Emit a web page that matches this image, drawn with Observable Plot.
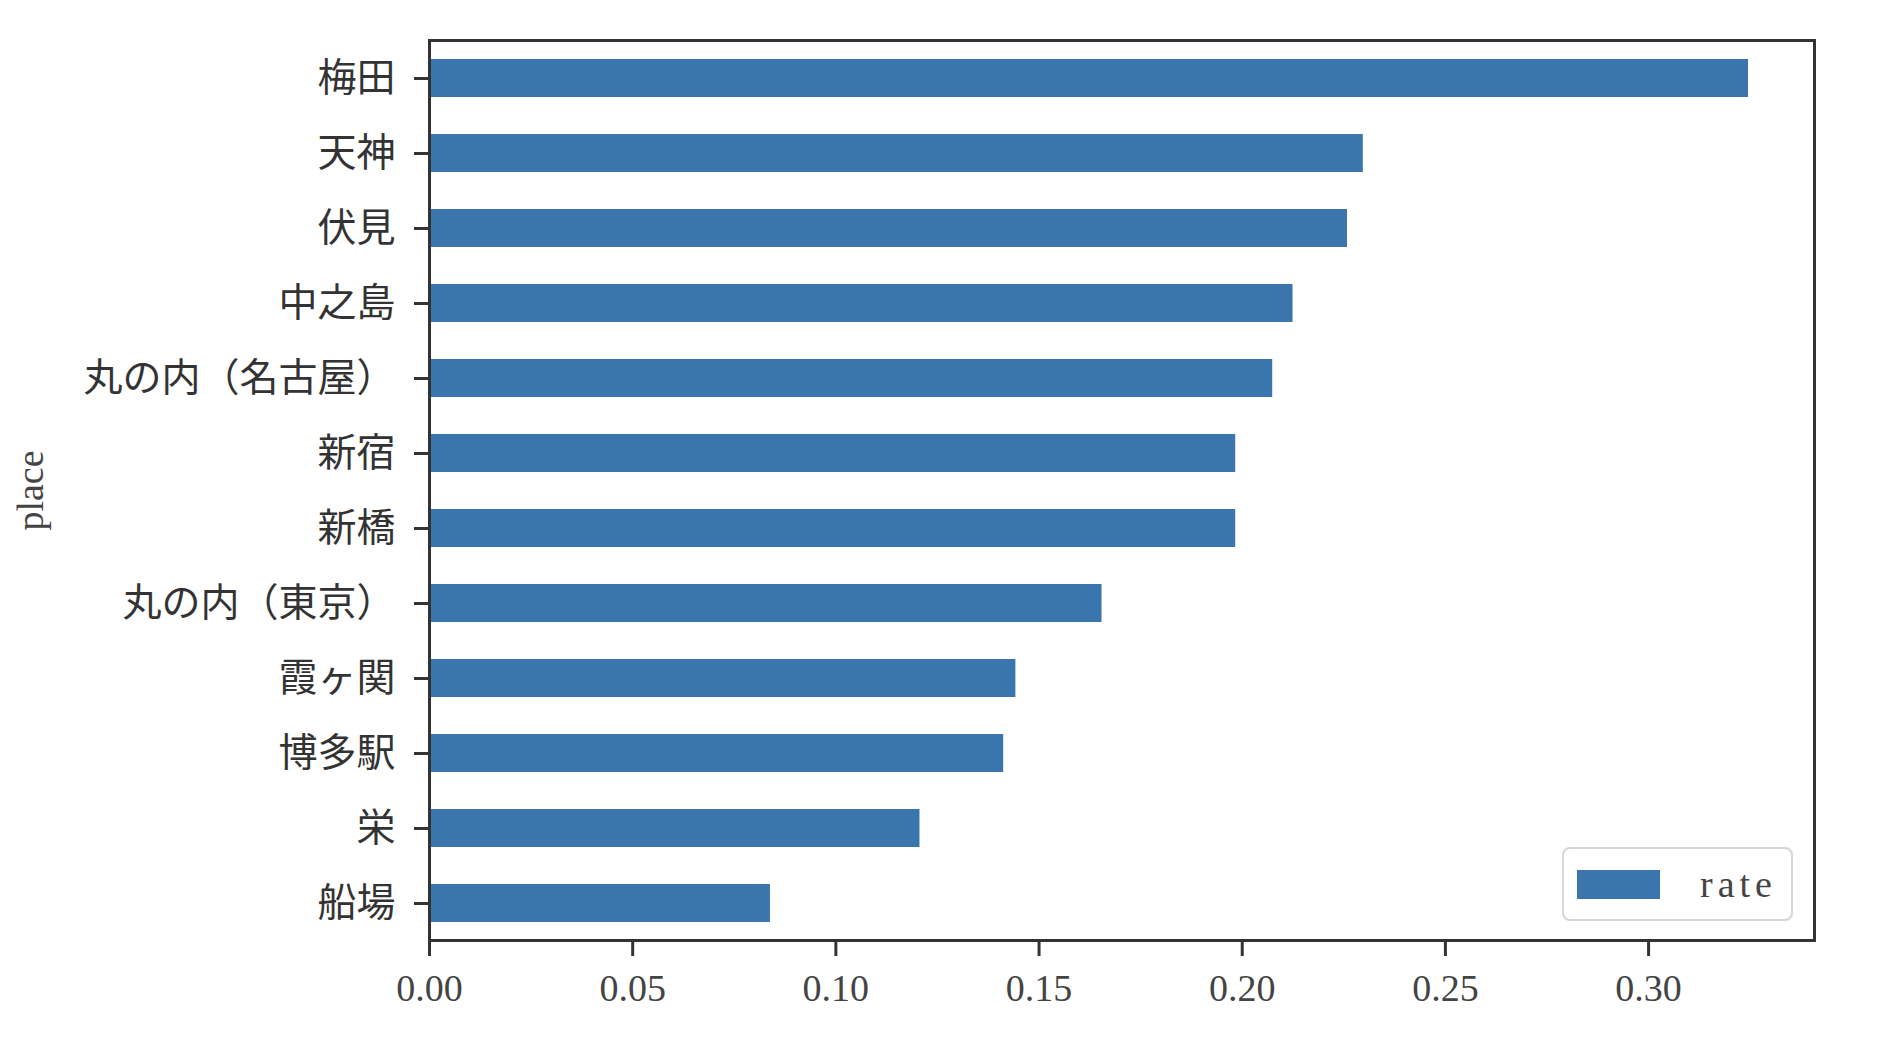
<!DOCTYPE html>
<html>
<head>
<meta charset="utf-8">
<script src="https://cdn.jsdelivr.net/npm/d3@7"></script>
<script src="https://cdn.jsdelivr.net/npm/@observablehq/plot@0.6"></script>
<style>
  html, body { margin: 0; padding: 0; background: #fff; }
  #wrap { position: relative; width: 1899px; height: 1048px; }
  #wrap svg { display: block; }
  #legend {
    position: absolute; left: 1562px; top: 847px; width: 227px; height: 70px;
    border: 2px solid #d6d6d6; border-radius: 8px; background: #fff;
    display: flex; align-items: center; box-sizing: content-box;
  }
  #legend > div { margin: 0 0 0 13px !important; }
  #legend span { font-family: "Liberation Serif", "DejaVu Serif", serif; font-size: 38px; letter-spacing: 5px; color: #444; }
  #legend svg { margin-right: 40px !important; }
</style>
</head>
<body>
<div id="wrap"></div>
<script>
const places = ["梅田","天神","伏見","中之島","丸の内（名古屋）","新宿","新橋","丸の内（東京）","霞ヶ関","博多駅","栄","船場"];
const rates = [0.3246, 0.2298, 0.2259, 0.2125, 0.2075, 0.1984, 0.1984, 0.1655, 0.1443, 0.1413, 0.1207, 0.0839];
const xTicks = [0, 0.05, 0.10, 0.15, 0.20, 0.25, 0.30];
const seriesName = "rate";
const yTitle = "place";
const barColor = "#3a75ae";

const data = places.map((p, i) => ({place: p, rate: rates[i]}));
const xMax = d3.max(rates) * 1.05;

const chart = Plot.plot({
  width: 1899,
  height: 1048,
  marginLeft: 429,
  marginRight: 85,
  marginTop: 40,
  marginBottom: 108,
  style: {background: "#fff", color: "#222"},
  x: {domain: [0, xMax], ticks: xTicks},
  y: {domain: places, paddingInner: 0.5, paddingOuter: 0.25, align: 0.5},
  marks: [
    Plot.barX(data, {x: "rate", y: "place", fill: barColor}),
    Plot.axisX({
      ticks: xTicks, tickFormat: d3.format(".2f"), tickSize: 16, tickPadding: 18,
      strokeWidth: 3, stroke: "#333", label: null,
      fontSize: 38, fontFamily: "Liberation Serif, DejaVu Serif, serif", fill: "#444"
    }),
    Plot.axisY({
      tickSize: 15, tickPadding: 19, strokeWidth: 3, stroke: "#333", label: null,
      fontSize: 39, fontFamily: "Noto Sans CJK JP, sans-serif", fill: "#333"
    }),
    Plot.text([yTitle], {
      text: d => d, frameAnchor: "left", rotate: -90, dx: -399,
      fontSize: 38, fontFamily: "Liberation Serif, DejaVu Serif, serif", fill: "#444",
      textAnchor: "middle", lineAnchor: "middle"
    }),
    Plot.frame({stroke: "#333", strokeWidth: 3})
  ]
});
document.getElementById("wrap").appendChild(chart);

const legendBox = document.createElement("div");
legendBox.id = "legend";
const leg = Plot.legend({
  color: {domain: [seriesName], range: [barColor]},
  swatchWidth: 83, swatchHeight: 29
});
legendBox.appendChild(leg);
document.getElementById("wrap").appendChild(legendBox);
</script>
</body>
</html>
